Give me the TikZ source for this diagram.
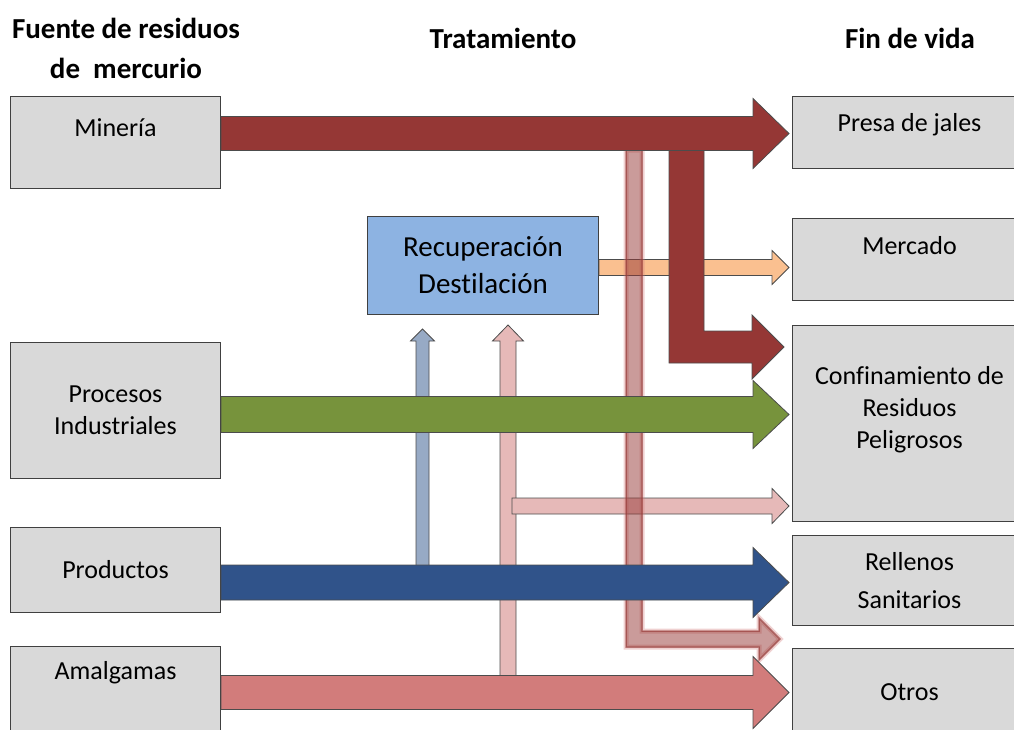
\documentclass[tikz,border=0pt]{standalone}
\usepackage{fontspec}
\setmainfont[Ligatures=NoCommon]{Carlito}
\usetikzlibrary{calc,positioning}
\definecolor{gris}{HTML}{D9D9D9}
\definecolor{celeste}{HTML}{8DB3E2}
\definecolor{guinda}{HTML}{953735}
\definecolor{naranja}{HTML}{FAC090}
\definecolor{verde}{HTML}{77933C}
\definecolor{azul}{HTML}{30538A}
\definecolor{rojo}{HTML}{D27C7B}
\definecolor{rosa}{HTML}{E6B9B8}
\definecolor{grisazul}{HTML}{97AAC5}
\tikzset{
  caja/.style={draw=black!75, fill=gris, line width=1pt, anchor=north west, inner sep=0pt, align=center, font=\fontsize{26}{32}\selectfont},
  texto/.style={align=center, font=\fontsize{26}{32}\selectfont},
  titulo/.style={align=center, font=\bfseries\fontsize{29}{40}\selectfont},
  bloque/.style={draw=black!70, line width=0.8pt},
  sombra/.style={fill=guinda, fill opacity=.5, draw=guinda, draw opacity=.6, line width=1.5pt,
    preaction={draw=rojo, draw opacity=.35, line width=5pt}}
}
% block arrow: style, tail, tip, half shaft, half head, head length
\newcommand{\flechah}[6]{%
  \path[#1] let \p1=(#2), \p2=(#3) in
    (\x1,\y2+#4) -- (\x2-#6,\y2+#4) -- (\x2-#6,\y2+#5) -- (\x2,\y2)
    -- (\x2-#6,\y2-#5) -- (\x2-#6,\y2-#4) -- (\x1,\y2-#4) -- cycle;}
\newcommand{\flechav}[6]{%
  \path[#1] let \p1=(#2), \p2=(#3) in
    (\x1-#4,\y1) -- (\x1-#4,\y2-#6) -- (\x1-#5,\y2-#6) -- (\x1,\y2)
    -- (\x1+#5,\y2-#6) -- (\x1+#4,\y2-#6) -- (\x1+#4,\y1) -- cycle;}

\begin{document}
\begin{tikzpicture}[x=1pt,y=-1pt]
\useasboundingbox (0,0) rectangle (1014,729);

% titulos
\node[titulo] (fuente) at (126,48) {Fuente de residuos\\de\ \ mercurio};
\node[titulo] (trat) at (503,38) {Tratamiento};
\node[titulo] (fin) at (910,38) {Fin de vida};

% fuentes
\node[caja, minimum width=210, minimum height=92] (mineria) at (10,96) {};
\node[texto] (t-mineria) at ($(mineria.north)+(0,32)$) {Minería};
\node[caja, minimum width=210, minimum height=136] (procesos) at (10,342) {Procesos\\Industriales};
\node[caja, minimum width=210, minimum height=85] (productos) at (10,527) {Productos};
\node[caja, minimum width=210, minimum height=100] (amalgamas) at (10,646) {};
\node[texto] (t-amalgamas) at ($(amalgamas.north)+(0,27)$) {Amalgamas};

% fin de vida
\node[caja, minimum width=234, minimum height=72] (presa) at (792,96) {};
\node[texto] (t-presa) at ($(presa.north)+(0,29)$) {Presa de jales};
\node[caja, minimum width=234, minimum height=82] (mercado) at (792,218) {};
\node[texto] (t-mercado) at ($(mercado.north)+(0,28)$) {Mercado};
\node[caja, minimum width=234, minimum height=196] (confin) at (792,325) {};
\node[texto] (t-confin) at ($(confin.north)+(0,85)$) {Confinamiento de\\Residuos\\Peligrosos};
\node[caja, minimum width=234, minimum height=90] (rellenos) at (792,535) {Rellenos\\[6pt]Sanitarios};
\node[caja, minimum width=234, minimum height=88] (otros) at (792,648) {Otros};

% tratamiento
\node[caja, fill=celeste, minimum width=231, minimum height=98, font=\fontsize{29}{37}\selectfont] (recup) at (367,216) {Recuperación\\Destilación};

\coordinate (pie-gris) at (422.5,580);
\coordinate (pie-rosa) at (508,690);
\coordinate (desvio) at (512,506);
\coordinate (bajada) at (626,150);
\coordinate (ramal) at (669,150);

% hacia recuperacion
\flechav{bloque,fill=grisazul}{pie-gris}{$(pie-gris |- recup.south)+(0,14)$}{6.5pt}{12pt}{12pt}
\flechav{bloque,fill=rosa}{pie-rosa}{$(pie-rosa |- recup.south)+(0,10)$}{8pt}{15.5pt}{16pt}
\flechah{bloque,fill=rosa}{desvio}{$(confin.west |- desvio)+(-3,0)$}{8pt}{17.5pt}{17pt}
\flechah{bloque,fill=naranja}{recup.east}{$(mercado.west |- recup.east)+(-3,2)$}{8pt}{17pt}{17pt}

% bajada transparente
\draw[sombra] (bajada) -- ++(16,0) -- ++(0,481) -- ++(117,0) -- ++(0,-13) -- ++(21,21)
  -- ++(-21,21) -- ++(0,-13) -- ++(-133,0) -- cycle;

% ramal a confinamiento
\draw[bloque, fill=guinda] (ramal) -- ++(35,0) -- ++(0,181) -- ++(48,0) -- ++(0,-16) -- ++(32,32)
  -- ++(-32,32) -- ++(0,-16) -- ++(-83,0) -- cycle;

% flujos principales
\flechah{bloque,fill=guinda}{mineria.east}{$(presa.west)+(-3,1)$}{17pt}{35pt}{36pt}
\flechah{bloque,fill=verde}{procesos.east}{$(confin.west |- procesos.east)+(-3,4)$}{18pt}{34pt}{36pt}
\flechah{bloque,fill=azul}{productos.east}{$(rellenos.west)+(-3,2)$}{17.5pt}{35pt}{36pt}
\flechah{bloque,fill=rojo}{amalgamas.east}{$(otros.west)+(-3,0)$}{17pt}{36pt}{36pt}
\end{tikzpicture}
\end{document}
